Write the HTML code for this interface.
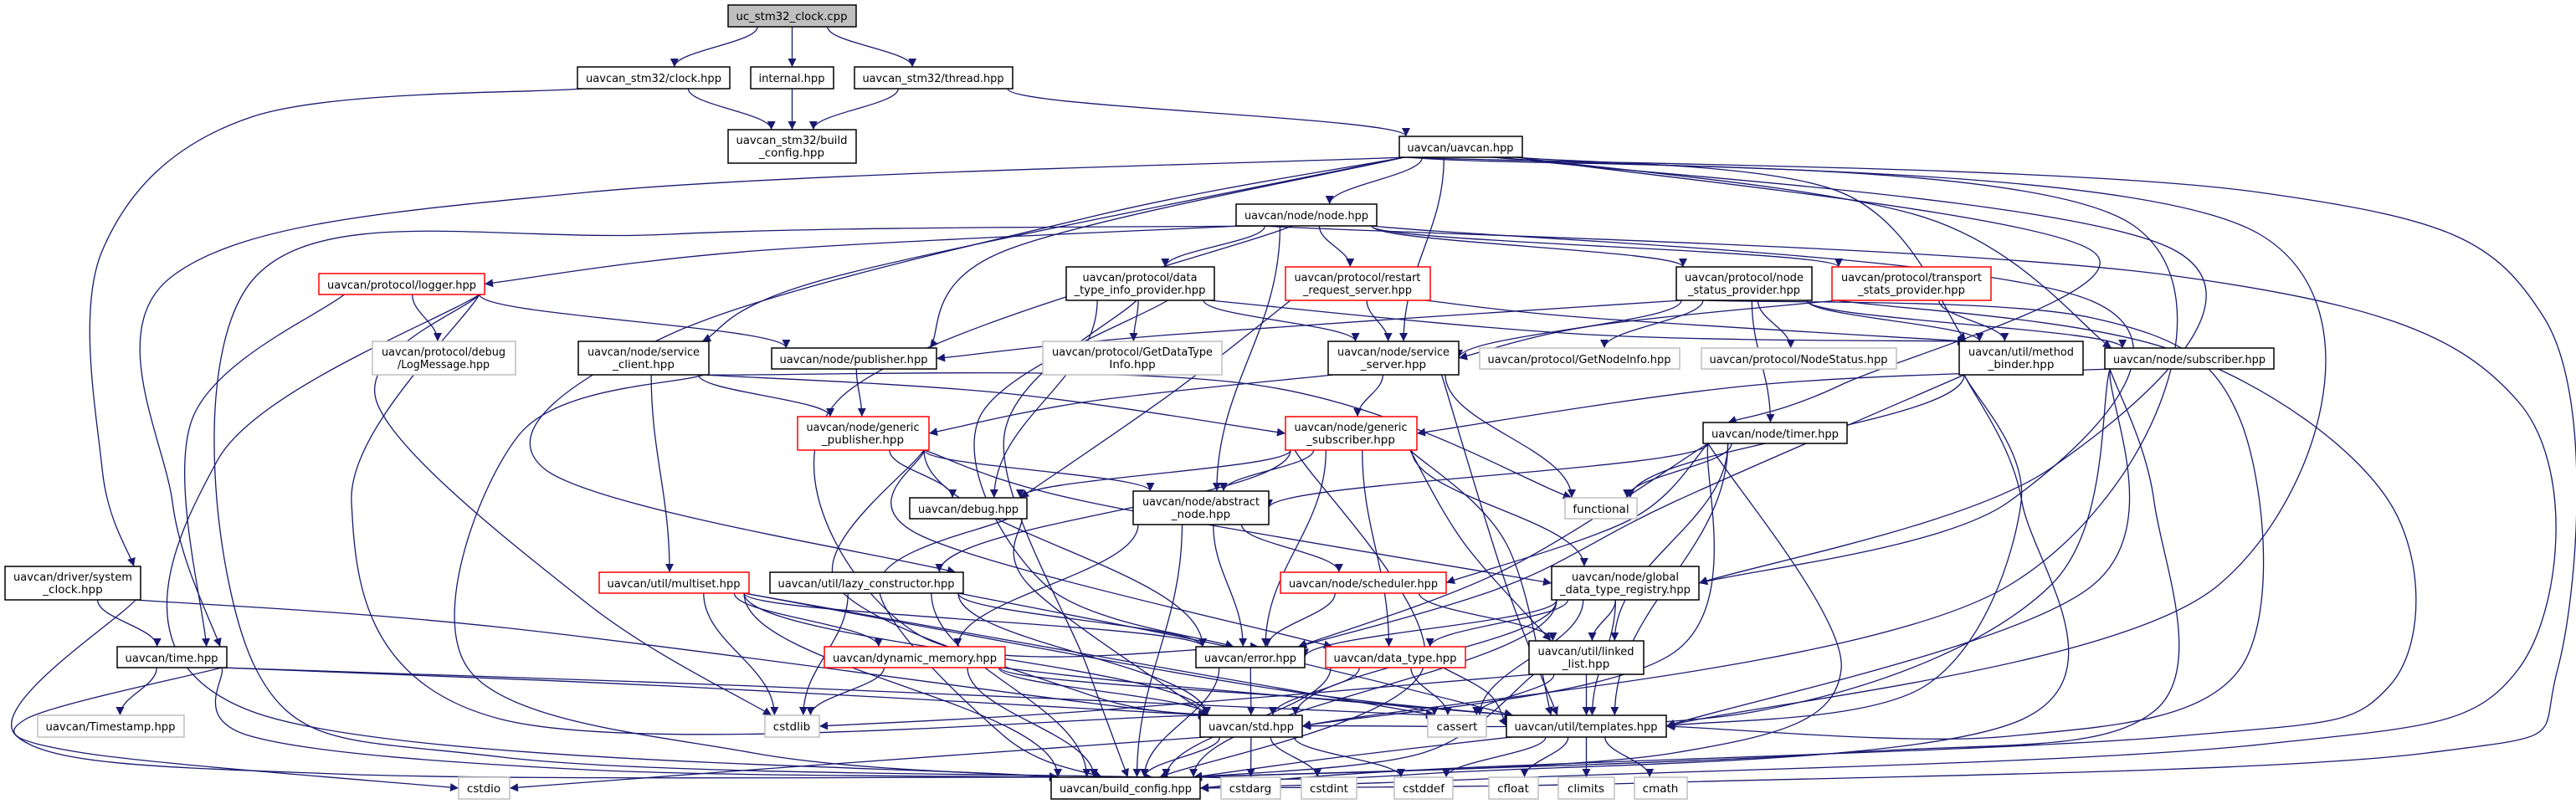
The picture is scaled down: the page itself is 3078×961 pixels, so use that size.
<!DOCTYPE html>
<html><head><meta charset="utf-8"><style>
html,body{margin:0;padding:0;background:#fff;}
svg{display:block;}
text{font-family:"DejaVu Sans","Liberation Sans",sans-serif;font-size:13.5px;fill:#000;text-anchor:middle;}
</style></head><body>
<svg id="g" xmlns="http://www.w3.org/2000/svg" width="3078" height="961" viewBox="0 0 3078 961">
<defs><marker id="ah" viewBox="0 0 10 10" refX="10" refY="5" markerWidth="12" markerHeight="10" markerUnits="userSpaceOnUse" orient="auto"><path d="M0,0L10,5L0,10z" fill="#191970"/></marker></defs>
<rect width="3078" height="961" fill="#fff"/>
<g id="edges" fill="none" stroke="#191970" stroke-width="1.3"></g>
<g id="nodes">
<rect id="n_uc" x="870" y="6" width="153" height="26" fill="#bfbfbf" stroke="#000" stroke-width="1.5"/><text x="946" y="24" textLength="133" lengthAdjust="spacingAndGlyphs">uc_stm32_clock.cpp</text>
<rect id="n_sclk" x="690" y="80" width="182" height="26" fill="#fff" stroke="#000" stroke-width="1.5"/><text x="781" y="98" textLength="162" lengthAdjust="spacingAndGlyphs">uavcan_stm32/clock.hpp</text>
<rect id="n_internal" x="897" y="80" width="99" height="26" fill="#fff" stroke="#000" stroke-width="1.5"/><text x="946" y="98" textLength="79" lengthAdjust="spacingAndGlyphs">internal.hpp</text>
<rect id="n_thread" x="1021" y="80" width="189" height="26" fill="#fff" stroke="#000" stroke-width="1.5"/><text x="1115" y="98" textLength="169" lengthAdjust="spacingAndGlyphs">uavcan_stm32/thread.hpp</text>
<rect id="n_sbuild" x="870" y="155" width="153" height="40" fill="#fff" stroke="#000" stroke-width="1.5"/><text x="946" y="172" textLength="133" lengthAdjust="spacingAndGlyphs">uavcan_stm32/build</text><text x="946" y="187">_config.hpp</text>
<rect id="n_uavcan" x="1672" y="163" width="147" height="25" fill="#fff" stroke="#000" stroke-width="1.5"/><text x="1745" y="181" textLength="127" lengthAdjust="spacingAndGlyphs">uavcan/uavcan.hpp</text>
<rect id="n_node" x="1477" y="244" width="168" height="26" fill="#fff" stroke="#000" stroke-width="1.5"/><text x="1561" y="262" textLength="148" lengthAdjust="spacingAndGlyphs">uavcan/node/node.hpp</text>
<rect id="n_logger" x="381" y="327" width="198" height="25" fill="#fff" stroke="#ff0000" stroke-width="1.5"/><text x="480" y="345" textLength="178" lengthAdjust="spacingAndGlyphs">uavcan/protocol/logger.hpp</text>
<rect id="n_dtip" x="1274" y="319" width="177" height="40" fill="#fff" stroke="#000" stroke-width="1.5"/><text x="1362" y="336" textLength="137" lengthAdjust="spacingAndGlyphs">uavcan/protocol/data</text><text x="1362" y="351" textLength="157" lengthAdjust="spacingAndGlyphs">_type_info_provider.hpp</text>
<rect id="n_restart" x="1536" y="319" width="173" height="40" fill="#fff" stroke="#ff0000" stroke-width="1.5"/><text x="1622" y="336" textLength="151" lengthAdjust="spacingAndGlyphs">uavcan/protocol/restart</text><text x="1622" y="351" textLength="130" lengthAdjust="spacingAndGlyphs">_request_server.hpp</text>
<rect id="n_nsp" x="2003" y="319" width="162" height="40" fill="#fff" stroke="#000" stroke-width="1.5"/><text x="2084" y="336" textLength="142" lengthAdjust="spacingAndGlyphs">uavcan/protocol/node</text><text x="2084" y="351" textLength="134" lengthAdjust="spacingAndGlyphs">_status_provider.hpp</text>
<rect id="n_tsp" x="2189" y="319" width="190" height="40" fill="#fff" stroke="#ff0000" stroke-width="1.5"/><text x="2284" y="336" textLength="168" lengthAdjust="spacingAndGlyphs">uavcan/protocol/transport</text><text x="2284" y="351" textLength="128" lengthAdjust="spacingAndGlyphs">_stats_provider.hpp</text>
<rect id="n_logmsg" x="445" y="408" width="171" height="40" fill="#fff" stroke="#bfbfbf" stroke-width="1.5"/><text x="530" y="425" textLength="148" lengthAdjust="spacingAndGlyphs">uavcan/protocol/debug</text><text x="530" y="440" textLength="110" lengthAdjust="spacingAndGlyphs">/LogMessage.hpp</text>
<rect id="n_sclient" x="691" y="408" width="156" height="40" fill="#fff" stroke="#000" stroke-width="1.5"/><text x="769" y="425" textLength="134" lengthAdjust="spacingAndGlyphs">uavcan/node/service</text><text x="769" y="440">_client.hpp</text>
<rect id="n_pub" x="922" y="416" width="197" height="25" fill="#fff" stroke="#000" stroke-width="1.5"/><text x="1020" y="434" textLength="177" lengthAdjust="spacingAndGlyphs">uavcan/node/publisher.hpp</text>
<rect id="n_gdti" x="1246" y="408" width="214" height="40" fill="#fff" stroke="#bfbfbf" stroke-width="1.5"/><text x="1353" y="425" textLength="192" lengthAdjust="spacingAndGlyphs">uavcan/protocol/GetDataType</text><text x="1353" y="440">Info.hpp</text>
<rect id="n_sserver" x="1587" y="408" width="156" height="40" fill="#fff" stroke="#000" stroke-width="1.5"/><text x="1665" y="425" textLength="134" lengthAdjust="spacingAndGlyphs">uavcan/node/service</text><text x="1665" y="440">_server.hpp</text>
<rect id="n_gni" x="1768" y="416" width="239" height="25" fill="#fff" stroke="#bfbfbf" stroke-width="1.5"/><text x="1887" y="434" textLength="219" lengthAdjust="spacingAndGlyphs">uavcan/protocol/GetNodeInfo.hpp</text>
<rect id="n_ns" x="2033" y="416" width="233" height="25" fill="#fff" stroke="#bfbfbf" stroke-width="1.5"/><text x="2149" y="434" textLength="213" lengthAdjust="spacingAndGlyphs">uavcan/protocol/NodeStatus.hpp</text>
<rect id="n_mb" x="2341" y="408" width="148" height="40" fill="#fff" stroke="#000" stroke-width="1.5"/><text x="2415" y="425" textLength="126" lengthAdjust="spacingAndGlyphs">uavcan/util/method</text><text x="2415" y="440">_binder.hpp</text>
<rect id="n_sub" x="2515" y="416" width="202" height="25" fill="#fff" stroke="#000" stroke-width="1.5"/><text x="2616" y="434" textLength="182" lengthAdjust="spacingAndGlyphs">uavcan/node/subscriber.hpp</text>
<rect id="n_gpub" x="953" y="498" width="157" height="40" fill="#fff" stroke="#ff0000" stroke-width="1.5"/><text x="1031" y="515" textLength="135" lengthAdjust="spacingAndGlyphs">uavcan/node/generic</text><text x="1031" y="530">_publisher.hpp</text>
<rect id="n_gsub" x="1536" y="498" width="157" height="40" fill="#fff" stroke="#ff0000" stroke-width="1.5"/><text x="1614" y="515" textLength="135" lengthAdjust="spacingAndGlyphs">uavcan/node/generic</text><text x="1614" y="530">_subscriber.hpp</text>
<rect id="n_timer" x="2035" y="505" width="172" height="25" fill="#fff" stroke="#000" stroke-width="1.5"/><text x="2121" y="523" textLength="152" lengthAdjust="spacingAndGlyphs">uavcan/node/timer.hpp</text>
<rect id="n_debug" x="1087" y="595" width="140" height="25" fill="#fff" stroke="#000" stroke-width="1.5"/><text x="1157" y="613" textLength="120" lengthAdjust="spacingAndGlyphs">uavcan/debug.hpp</text>
<rect id="n_anode" x="1354" y="587" width="162" height="40" fill="#fff" stroke="#000" stroke-width="1.5"/><text x="1435" y="604" textLength="140" lengthAdjust="spacingAndGlyphs">uavcan/node/abstract</text><text x="1435" y="619">_node.hpp</text>
<rect id="n_func" x="1870" y="595" width="86" height="25" fill="#fff" stroke="#bfbfbf" stroke-width="1.5"/><text x="1913" y="613">functional</text>
<rect id="n_sysclk" x="6" y="677" width="162" height="40" fill="#fff" stroke="#000" stroke-width="1.5"/><text x="87" y="694" textLength="142" lengthAdjust="spacingAndGlyphs">uavcan/driver/system</text><text x="87" y="709">_clock.hpp</text>
<rect id="n_mset" x="716" y="684" width="179" height="25" fill="#fff" stroke="#ff0000" stroke-width="1.5"/><text x="805" y="702" textLength="159" lengthAdjust="spacingAndGlyphs">uavcan/util/multiset.hpp</text>
<rect id="n_lazy" x="920" y="684" width="231" height="25" fill="#fff" stroke="#000" stroke-width="1.5"/><text x="1035" y="702" textLength="211" lengthAdjust="spacingAndGlyphs">uavcan/util/lazy_constructor.hpp</text>
<rect id="n_sched" x="1530" y="684" width="198" height="25" fill="#fff" stroke="#ff0000" stroke-width="1.5"/><text x="1629" y="702" textLength="178" lengthAdjust="spacingAndGlyphs">uavcan/node/scheduler.hpp</text>
<rect id="n_gdtr" x="1854" y="677" width="176" height="40" fill="#fff" stroke="#000" stroke-width="1.5"/><text x="1942" y="694" textLength="128" lengthAdjust="spacingAndGlyphs">uavcan/node/global</text><text x="1942" y="709" textLength="156" lengthAdjust="spacingAndGlyphs">_data_type_registry.hpp</text>
<rect id="n_time" x="140" y="773" width="131" height="25" fill="#fff" stroke="#000" stroke-width="1.5"/><text x="205" y="791" textLength="111" lengthAdjust="spacingAndGlyphs">uavcan/time.hpp</text>
<rect id="n_dmem" x="985" y="773" width="216" height="25" fill="#fff" stroke="#ff0000" stroke-width="1.5"/><text x="1093" y="791" textLength="196" lengthAdjust="spacingAndGlyphs">uavcan/dynamic_memory.hpp</text>
<rect id="n_err" x="1429" y="773" width="130" height="25" fill="#fff" stroke="#000" stroke-width="1.5"/><text x="1494" y="791" textLength="110" lengthAdjust="spacingAndGlyphs">uavcan/error.hpp</text>
<rect id="n_dtype" x="1584" y="773" width="167" height="25" fill="#fff" stroke="#ff0000" stroke-width="1.5"/><text x="1667" y="791" textLength="147" lengthAdjust="spacingAndGlyphs">uavcan/data_type.hpp</text>
<rect id="n_ll" x="1827" y="766" width="137" height="40" fill="#fff" stroke="#000" stroke-width="1.5"/><text x="1895" y="783" textLength="115" lengthAdjust="spacingAndGlyphs">uavcan/util/linked</text><text x="1895" y="798">_list.hpp</text>
<rect id="n_ts" x="45" y="855" width="175" height="26" fill="#fff" stroke="#bfbfbf" stroke-width="1.5"/><text x="132" y="873" textLength="155" lengthAdjust="spacingAndGlyphs">uavcan/Timestamp.hpp</text>
<rect id="n_cstdlib" x="914" y="855" width="65" height="26" fill="#fff" stroke="#bfbfbf" stroke-width="1.5"/><text x="946" y="873">cstdlib</text>
<rect id="n_std" x="1434" y="855" width="122" height="26" fill="#fff" stroke="#000" stroke-width="1.5"/><text x="1495" y="873" textLength="102" lengthAdjust="spacingAndGlyphs">uavcan/std.hpp</text>
<rect id="n_cassert" x="1706" y="855" width="70" height="26" fill="#fff" stroke="#bfbfbf" stroke-width="1.5"/><text x="1741" y="873">cassert</text>
<rect id="n_tmpl" x="1800" y="855" width="191" height="26" fill="#fff" stroke="#000" stroke-width="1.5"/><text x="1895" y="873" textLength="171" lengthAdjust="spacingAndGlyphs">uavcan/util/templates.hpp</text>
<rect id="n_cstdio" x="548" y="929" width="61" height="26" fill="#fff" stroke="#bfbfbf" stroke-width="1.5"/><text x="578" y="947">cstdio</text>
<rect id="n_build" x="1256" y="929" width="178" height="26" fill="#fff" stroke="#000" stroke-width="1.5"/><text x="1345" y="947" textLength="158" lengthAdjust="spacingAndGlyphs">uavcan/build_config.hpp</text>
<rect id="n_cstdarg" x="1459" y="929" width="71" height="26" fill="#fff" stroke="#bfbfbf" stroke-width="1.5"/><text x="1494" y="947">cstdarg</text>
<rect id="n_cstdint" x="1555" y="929" width="66" height="26" fill="#fff" stroke="#bfbfbf" stroke-width="1.5"/><text x="1588" y="947">cstdint</text>
<rect id="n_cstddef" x="1666" y="929" width="70" height="26" fill="#fff" stroke="#bfbfbf" stroke-width="1.5"/><text x="1701" y="947">cstddef</text>
<rect id="n_cfloat" x="1779" y="929" width="59" height="26" fill="#fff" stroke="#bfbfbf" stroke-width="1.5"/><text x="1808" y="947">cfloat</text>
<rect id="n_climits" x="1862" y="929" width="67" height="26" fill="#fff" stroke="#bfbfbf" stroke-width="1.5"/><text x="1895" y="947">climits</text>
<rect id="n_cmath" x="1953" y="929" width="63" height="26" fill="#fff" stroke="#bfbfbf" stroke-width="1.5"/><text x="1984" y="947">cmath</text>
</g>
</svg>
<script>
(function(){
var NS="http://www.w3.org/2000/svg";
function B(id){var r=document.getElementById("n_"+id);var x=+r.getAttribute("x"),y=+r.getAttribute("y"),w=+r.getAttribute("width"),h=+r.getAttribute("height");return {x1:x,y1:y,x2:x+w,y2:y+h,cx:x+w/2,cy:y+h/2};}
function cl(v,a,b){return Math.max(a,Math.min(b,v));}
var g=document.getElementById("edges");
function add(d){var p=document.createElementNS(NS,"path");p.setAttribute("d",d);p.setAttribute("marker-end","url(#ah)");g.appendChild(p);}
function cr(pts){var d="M"+pts[0][0]+","+pts[0][1];for(var i=0;i<pts.length-1;i++){var p0=pts[i-1]||pts[i],p1=pts[i],p2=pts[i+1],p3=pts[i+2]||p2;var c1=[p1[0]+(p2[0]-p0[0])/6,p1[1]+(p2[1]-p0[1])/6],c2=[p2[0]-(p3[0]-p1[0])/6,p2[1]-(p3[1]-p1[1])/6];d+=" C"+c1[0]+","+c1[1]+" "+c2[0]+","+c2[1]+" "+p2[0]+","+p2[1];}return d;}
function E(a,b,w,side){var S=B(a),T=B(b);var sx=cl(S.cx+(T.cx-S.cx)*0.25,S.x1+6,S.x2-6),sy=S.y2;var end;
 if(side==="r")end=[T.x2,T.cy];else if(side==="l")end=[T.x1,T.cy];else end=[cl(T.cx+(S.cx-T.cx)*0.15,T.x1+8,T.x2-8),T.y1];
 if(w&&w.length){add(cr([[sx,sy]].concat(w,[end])));return;}
 var dy=end[1]-sy;add("M"+sx+","+sy+" C"+sx+","+(sy+dy*0.4)+" "+end[0]+","+(end[1]-dy*0.4)+" "+end[0]+","+end[1]);}
E("uc","sclk");E("uc","internal");E("uc","thread");
E("sclk","sbuild");E("internal","sbuild");E("thread","sbuild");
E("sclk","sysclk",[[300,140],[122,300],[122,560]]);
E("thread","uavcan");
E("uavcan","node");E("uavcan","sserver");E("uavcan","sclient",[[1000,330]]);E("uavcan","pub",[[1200,300]]);
E("uavcan","sub",[[2300,260]]);E("uavcan","mb",[[2200,230]]);E("uavcan","timer",[[2500,300],[2200,460]]);
E("uavcan","gdtr",[[2600,300],[2450,560]],"r");E("uavcan","lazy",[[1300,260],[800,400],[650,560]]);
E("uavcan","time",[[700,230],[206,330],[206,600]]);
E("uavcan","tmpl",[[2700,280],[2650,700]],"r");E("uavcan","std",[[2550,270],[2400,700]],"r");
E("uavcan","build",[[2700,230],[3040,380],[3056,800],[2900,900],[2000,935]],"r");
E("node","logger",[[900,300]],"r");E("node","dtip");E("node","restart");E("node","nsp");E("node","tsp");E("node","anode");
E("node","err",[[1000,480],[1100,760]]);E("node","build",[[800,280],[306,330],[306,800],[600,905]]);
E("node","build",[[2600,330],[3009,480],[3009,800],[2700,890],[1800,930]],"r");
E("node","gdtr",[[2500,360],[2400,600]],"r");
E("logger","logmsg");E("logger","pub");E("logger","time",[[230,500]]);E("logger","build",[[260,550],[300,850]]);E("logger","cstdlib",[[450,480],[700,720]]);E("logger","std",[[420,600],[600,860]]);
E("dtip","gdti");E("dtip","sserver");E("dtip","mb",[[1900,400]]);E("dtip","debug");E("dtip","build",[[1200,520],[1300,800]]);E("dtip","err",[[1170,500],[1250,700]]);
E("restart","sserver");E("restart","mb",[[1900,380]]);E("restart","debug",[[1400,470]]);
E("nsp","gni");E("nsp","ns");E("nsp","sserver",null,"r");E("nsp","mb");E("nsp","sub");E("nsp","pub",[[1400,400]],"r");E("nsp","timer");
E("nsp","tmpl",[[2500,380],[2676,500],[2676,800],[2400,880]],"r");
E("tsp","sserver",[[1900,390]],"r");E("tsp","mb");E("tsp","build",[[2600,420],[2855,600],[2855,820],[2600,880],[1700,920]],"r");
E("sclient","gpub");E("sclient","gsub",[[1200,470]],"l");E("sclient","mset");E("sclient","func",[[1500,460]]);E("sclient","build",[[620,520],[560,800],[900,900]]);
E("pub","gpub");
E("sserver","gsub");E("sserver","func");E("sserver","tmpl",[[1800,700]]);E("sserver","gpub",[[1300,480]],"r");
E("mb","err",[[2000,600],[1800,700]]);E("mb","tmpl",[[2415,600],[2300,820]],"r");E("mb","build",[[2416,600],[2416,860],[1700,925]]);E("mb","func");
E("sub","gsub",[[2100,460]],"r");E("sub","std",[[2450,700],[2100,850]],"r");E("sub","build",[[2574,600],[2574,850],[2200,900]]);E("sub","tmpl",[[2500,700]],"r");
E("gpub","debug");E("gpub","anode");E("gpub","err");E("gpub","dtype",[[1100,640]]);E("gpub","std",[[1000,700],[1300,830]]);E("gpub","gdtr",[[1300,600]],"l");
E("gsub","debug");E("gsub","anode");E("gsub","lazy");E("gsub","err");E("gsub","gdtr");E("gsub","dtype");E("gsub","tmpl",[[1800,650]]);E("gsub","build",[[1700,800]]);E("gsub","ll",[[1750,650]]);
E("timer","anode",null,"r");E("timer","func");E("timer","sched",[[1950,620]],"r");E("timer","err",[[1800,680]]);E("timer","ll");E("timer","std",[[2000,780]],"r");E("timer","tmpl");E("timer","build",[[2200,800],[2000,900]]);
E("debug","build",[[1050,700],[1200,880]]);E("debug","std",[[1230,700]]);
E("anode","dmem");E("anode","sched");E("anode","build");E("anode","err");
E("sysclk","time");E("sysclk","std",[[600,750],[1300,840]]);E("sysclk","build",[[20,880],[400,925]]);
E("mset","dmem");E("mset","cstdlib");E("mset","std");E("mset","err");E("mset","tmpl",[[1500,820]]);E("mset","build");E("mset","cassert",[[1400,800]]);
E("lazy","cstdlib");E("lazy","err");E("lazy","build");E("lazy","tmpl",[[1500,780]]);E("lazy","std");
E("sched","err");E("sched","ll");
E("gdtr","err",null,"r");E("gdtr","dtype");E("gdtr","ll");E("gdtr","std");E("gdtr","cassert");E("gdtr","tmpl");E("gdtr","build");
E("time","ts");E("time","cstdio",[[30,860],[100,900]],"l");E("time","build",[[300,880],[700,920]]);E("time","std",[[800,820]]);E("time","cassert",[[900,820]]);
E("dmem","cstdlib");E("dmem","std");E("dmem","build");E("dmem","cassert");E("dmem","tmpl",[[1400,820]]);
E("err","std");E("err","build");
E("dtype","std");E("dtype","cassert");E("dtype","build");E("dtype","tmpl",[[1780,830]],"l");
E("ll","cstdlib",[[1300,850]],"r");E("ll","cassert");E("ll","tmpl");E("ll","build",[[1700,900]]);
E("std","cstdarg");E("std","cstdint");E("std","cstddef");E("std","cstdio",[[900,920]],"r");E("std","build");
E("tmpl","cfloat");E("tmpl","climits");E("tmpl","cmath");E("tmpl","cstddef");E("tmpl","build",[[1600,905]]);
})();
</script>
</body></html>
